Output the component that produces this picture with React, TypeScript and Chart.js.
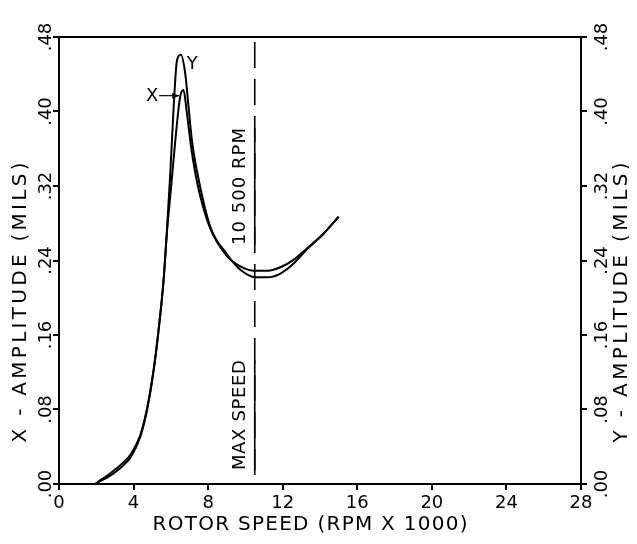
import React, { useEffect, useRef } from "react";
import { Chart, registerables } from "chart.js";

Chart.register(...registerables);

// ---- data ----
const xTicks = [0, 4, 8, 12, 16, 20, 24, 28];
const yTicks = [0, 0.08, 0.16, 0.24, 0.32, 0.4, 0.48];
const yTickLabels = [".00", ".08", ".16", ".24", ".32", ".40", ".48"];

const xSpeed = [1.94, 2.2, 2.6, 3.1, 3.5, 3.82, 4.35, 4.71, 5.07, 5.34, 5.61, 5.79, 6.0, 6.24, 6.5, 6.68, 6.85, 7.1, 7.45, 8.1, 9.0, 9.7, 10.5, 11.2, 11.9, 12.6, 13.3, 14.2, 15.0];
const xAmp = [0, 0.004, 0.009, 0.017, 0.024, 0.031, 0.052, 0.08, 0.122, 0.165, 0.219, 0.27, 0.316, 0.369, 0.416, 0.423, 0.4, 0.36, 0.32, 0.275, 0.245, 0.234, 0.229, 0.229, 0.233, 0.241, 0.253, 0.269, 0.287];

const ySpeed = [1.94, 2.2, 2.6, 3.1, 3.5, 3.82, 4.35, 4.71, 5.07, 5.34, 5.61, 5.79, 5.97, 6.15, 6.33, 6.54, 6.77, 6.95, 7.13, 7.49, 8.12, 9.0, 9.73, 10.54, 11.17, 11.88, 12.6, 13.3, 14.2, 15.0];
const yAmp = [0, 0.003, 0.007, 0.014, 0.021, 0.028, 0.05, 0.078, 0.121, 0.165, 0.219, 0.273, 0.334, 0.405, 0.455, 0.461, 0.441, 0.405, 0.369, 0.327, 0.276, 0.247, 0.23, 0.222, 0.222, 0.226, 0.237, 0.252, 0.269, 0.287];

const maxSpeed = 10.5;
const xLabel = "ROTOR SPEED (RPM X 1000)";
const yLeftLabel = "X - AMPLITUDE (MILS)";
const yRightLabel = "Y - AMPLITUDE (MILS)";
const rpmNote = "10 500 RPM";
const maxNote = "MAX SPEED";

const FONT = '"DejaVu Sans", "Liberation Sans", sans-serif';

function drawSpaced(ctx: CanvasRenderingContext2D, text: string, cx: number, cy: number, rot: number, size: number, target?: number) {
  ctx.save();
  ctx.font = `${size}px ${FONT}`;
  (ctx as any).letterSpacing = "0px";
  const w = ctx.measureText(text).width;
  const n = text.length;
  let ls = 0;
  if (target && n > 1) ls = (target - w) / (n - 1);
  (ctx as any).letterSpacing = `${ls}px`;
  const total = w + ls * (n - 1);
  ctx.translate(cx, cy);
  ctx.rotate(rot);
  ctx.textAlign = "left";
  ctx.textBaseline = "middle";
  ctx.fillStyle = "#000";
  ctx.fillText(text, -total / 2, 0);
  ctx.restore();
}

const decor = {
  id: "decor",
  afterDraw(chart: any) {
    const ctx: CanvasRenderingContext2D = chart.ctx;
    const { left, right, top, bottom } = chart.chartArea;
    const xs = chart.scales.x;
    const ys = chart.scales.y;
    ctx.save();
    // frame
    ctx.strokeStyle = "#000";
    ctx.lineWidth = 2;
    ctx.strokeRect(left, top, right - left, bottom - top);

    // max speed dashed line
    const mx = xs.getPixelForValue(maxSpeed);
    ctx.lineWidth = 1.6;
    ctx.setLineDash([26, 11]);
    ctx.beginPath();
    ctx.moveTo(mx, top + 5);
    ctx.lineTo(mx, bottom);
    ctx.stroke();
    ctx.setLineDash([]);

    // y tick labels
    yTicks.forEach((v, i) => {
      const py = ys.getPixelForValue(v);
      drawSpaced(ctx, yTickLabels[i], left - 13, py, -Math.PI / 2, 18);
      drawSpaced(ctx, yTickLabels[i], right + 21, py, -Math.PI / 2, 18);
    });

    // titles
    const cyTitle = (top + bottom) / 2 + 42;
    drawSpaced(ctx, yLeftLabel, left - 38, cyTitle, -Math.PI / 2, 20, 280);
    drawSpaced(ctx, yRightLabel, right + 41, cyTitle, -Math.PI / 2, 20, 280);
    drawSpaced(ctx, xLabel, (left + right) / 2 - 10, bottom + 41, 0, 20, 315);

    // notes along the max speed line
    const ny1 = (ys.getPixelForValue(0.382) + ys.getPixelForValue(0.257)) / 2;
    drawSpaced(ctx, rpmNote, mx - 14, ny1, -Math.PI / 2, 18, 117);
    const ny2 = (ys.getPixelForValue(0.133) + ys.getPixelForValue(0.015)) / 2;
    drawSpaced(ctx, maxNote, mx - 14, ny2, -Math.PI / 2, 18, 110);
    ctx.lineWidth = 1.6;
    ctx.beginPath();
    ctx.moveTo(mx, ys.getPixelForValue(0.382));
    ctx.lineTo(mx, ys.getPixelForValue(0.257));
    ctx.moveTo(mx, ys.getPixelForValue(0.133));
    ctx.lineTo(mx, ys.getPixelForValue(0.015));
    ctx.stroke();

    // X / Y curve labels
    const ax = xs.getPixelForValue(6.5);
    const ay = ys.getPixelForValue(0.417);
    drawSpaced(ctx, "X", ax - 28, ay + 1, 0, 18);
    ctx.lineWidth = 1.2;
    ctx.beginPath();
    ctx.moveTo(ax - 21, ay);
    ctx.lineTo(ax - 1, ay);
    ctx.stroke();
    ctx.beginPath();
    ctx.moveTo(ax - 1, ay);
    ctx.lineTo(ax - 8, ay - 3);
    ctx.lineTo(ax - 8, ay + 3);
    ctx.closePath();
    ctx.fillStyle = "#000";
    ctx.fill();
    drawSpaced(ctx, "Y", xs.getPixelForValue(7.15), ys.getPixelForValue(0.451), 0, 18);
    ctx.restore();
  },
};

export default function App() {
  const ref = useRef<HTMLCanvasElement | null>(null);
  useEffect(() => {
    if (!ref.current) return;
    const line = (xsArr: number[], ysArr: number[], label: string) => ({
      label,
      data: xsArr.map((x, i) => ({ x, y: ysArr[i] })),
      borderColor: "#000",
      borderWidth: 2,
      pointRadius: 0,
      fill: false,
      showLine: true,
      cubicInterpolationMode: "monotone" as const,
    });
    const tickGrid = { display: true, drawOnChartArea: false, drawTicks: true, tickLength: 6, color: "#000", lineWidth: 2 };
    const chart = new Chart(ref.current, {
      type: "scatter",
      data: {
        datasets: [line(xSpeed, xAmp, "X"), line(ySpeed, yAmp, "Y")],
      },
      options: {
        animation: false,
        responsive: true,
        maintainAspectRatio: false,
        layout: { padding: { top: 29, left: 0, right: 0, bottom: 0 } },
        plugins: { legend: { display: false }, tooltip: { enabled: false } },
        scales: {
          x: {
            type: "linear",
            min: 0,
            max: 28,
            afterBuildTicks: (s: any) => { s.ticks = xTicks.map((v) => ({ value: v })); },
            ticks: { color: "#000", font: { family: FONT, size: 18 }, padding: 3, maxRotation: 0 },
            grid: tickGrid,
            border: { display: true, color: "#000", width: 2 },
            afterFit: (s: any) => { s.height = 52; },
          },
          y: {
            type: "linear",
            position: "left",
            min: 0,
            max: 0.48,
            afterBuildTicks: (s: any) => { s.ticks = yTicks.map((v) => ({ value: v })); },
            ticks: { display: false },
            grid: tickGrid,
            border: { display: true, color: "#000", width: 2 },
            afterFit: (s: any) => { s.width = 51; },
          },
          y2: {
            type: "linear",
            position: "right",
            min: 0,
            max: 0.48,
            afterBuildTicks: (s: any) => { s.ticks = yTicks.map((v) => ({ value: v })); },
            ticks: { display: false },
            grid: tickGrid,
            border: { display: true, color: "#000", width: 2 },
            afterFit: (s: any) => { s.width = 48; },
          },
        },
      },
      plugins: [decor],
    });
    return () => chart.destroy();
  }, []);
  return (
    <div style={{ width: 621, height: 528, position: "relative" }}>
      <canvas ref={ref} />
    </div>
  );
}
